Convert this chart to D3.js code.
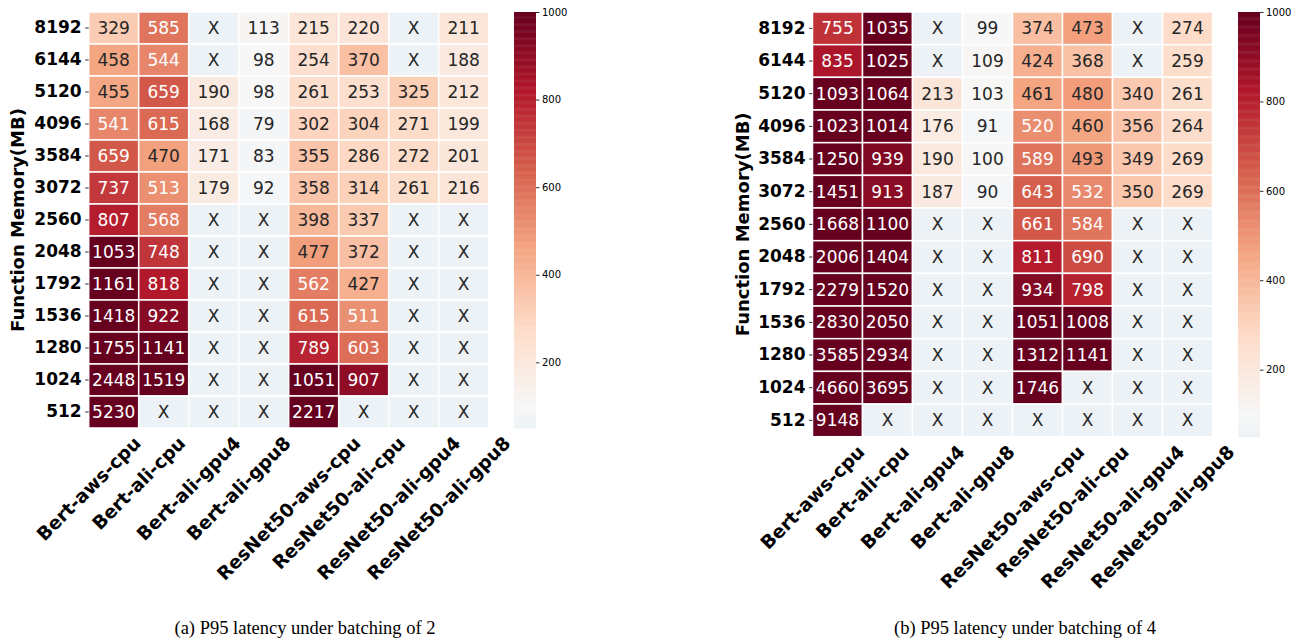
<!DOCTYPE html>
<html>
<head>
<meta charset="utf-8">
<script src="https://cdn.jsdelivr.net/npm/d3@7"></script>
<style>
  body { margin: 0; background: #fff; }
  svg { display: block; }
</style>
</head>
<body>
<svg id="chart" width="1307" height="640"></svg>
<script>
// categories
const memRows = ["8192", "6144", "5120", "4096", "3584", "3072", "2560", "2048", "1792", "1536", "1280", "1024", "512"]
const platforms = ["Bert-aws-cpu", "Bert-ali-cpu", "Bert-ali-gpu4", "Bert-ali-gpu8",
  "ResNet50-aws-cpu", "ResNet50-ali-cpu", "ResNet50-ali-gpu4", "ResNet50-ali-gpu8"]
const cbarTicks = [200, 400, 600, 800, 1000]

// P95 latency, batching of 2 (null = X)
const batch2 = [
  [329, 585, null, 113, 215, 220, null, 211],
  [458, 544, null, 98, 254, 370, null, 188],
  [455, 659, 190, 98, 261, 253, 325, 212],
  [541, 615, 168, 79, 302, 304, 271, 199],
  [659, 470, 171, 83, 355, 286, 272, 201],
  [737, 513, 179, 92, 358, 314, 261, 216],
  [807, 568, null, null, 398, 337, null, null],
  [1053, 748, null, null, 477, 372, null, null],
  [1161, 818, null, null, 562, 427, null, null],
  [1418, 922, null, null, 615, 511, null, null],
  [1755, 1141, null, null, 789, 603, null, null],
  [2448, 1519, null, null, 1051, 907, null, null],
  [5230, null, null, null, 2217, null, null, null]
]

// P95 latency, batching of 4
const batch4 = [
  [755, 1035, null, 99, 374, 473, null, 274],
  [835, 1025, null, 109, 424, 368, null, 259],
  [1093, 1064, 213, 103, 461, 480, 340, 261],
  [1023, 1014, 176, 91, 520, 460, 356, 264],
  [1250, 939, 190, 100, 589, 493, 349, 269],
  [1451, 913, 187, 90, 643, 532, 350, 269],
  [1668, 1100, null, null, 661, 584, null, null],
  [2006, 1404, null, null, 811, 690, null, null],
  [2279, 1520, null, null, 934, 798, null, null],
  [2830, 2050, null, null, 1051, 1008, null, null],
  [3585, 2934, null, null, 1312, 1141, null, null],
  [4660, 3695, null, null, 1746, null, null, null],
  [9148, null, null, null, null, null, null, null]
]

const VMIN = 50, VMAX = 1000, CENTER = 100
const rdbu = ["#053061", "#2166ac", "#4393c3", "#92c5de", "#d1e5f0", "#f7f7f7",
  "#fddbc7", "#f4a582", "#d6604d", "#b2182b", "#67001f"]
const cmap = d3.scaleLinear().domain(d3.range(11).map(i => i / 10)).range(rdbu).interpolate(d3.interpolateRgb)
const span = Math.max(VMAX - CENTER, CENTER - VMIN)
function color(v) {
  v = Math.max(VMIN, Math.min(VMAX, v == null ? VMIN : v))
  return cmap((v - (CENTER - span)) / (2 * span))
}
function lum(c) {
  const rgb = d3.rgb(c)
  const f = x => { x /= 255; return x <= 0.03928 ? x / 12.92 : Math.pow((x + 0.055) / 1.055, 2.4) }
  return 0.2126 * f(rgb.r) + 0.7152 * f(rgb.g) + 0.0722 * f(rgb.b)
}

const svg = d3.select("#chart")
const FONT = "DejaVu Sans"

function drawPanel(cfg) {
  const g = svg.append("g")
  const x = d3.scaleBand().domain(platforms).range([cfg.left, cfg.left + 400])
  const y = d3.scaleBand().domain(memRows).range([cfg.top, cfg.bottom])

  const cells = []
  cfg.data.forEach((row, i) => row.forEach((v, j) => cells.push({r: memRows[i], c: platforms[j], v})))

  g.selectAll("rect.cell").data(cells).join("rect")
    .attr("class", "cell")
    .attr("x", d => x(d.c)).attr("y", d => y(d.r))
    .attr("width", x.bandwidth()).attr("height", y.bandwidth())
    .attr("fill", d => color(d.v))
    .attr("stroke", "#fff").attr("stroke-width", 1.5)

  g.selectAll("text.annot").data(cells).join("text")
    .attr("class", "annot")
    .attr("x", d => x(d.c) + x.bandwidth() / 2)
    .attr("y", d => y(d.r) + y.bandwidth() / 2)
    .attr("text-anchor", "middle").attr("dominant-baseline", "central")
    .style("font-family", FONT).style("font-size", "17px")
    .attr("fill", d => d.v != null && lum(color(d.v)) <= 0.408 ? "#fff" : "#262626")
    .text(d => d.v == null ? "X" : d.v)

  // y axis
  const yAxis = g.append("g").attr("transform", `translate(${cfg.left},0)`)
    .call(d3.axisLeft(y).tickSize(3.5).tickPadding(3.5))
  yAxis.select(".domain").remove()
  yAxis.selectAll("text").style("font-family", FONT).style("font-size", "17px")
    .style("font-weight", "bold").attr("fill", "#000")
  yAxis.selectAll("line").attr("stroke", "#333")

  // x labels, rotated, bbox centred on cell left edge
  g.selectAll("text.xlab").data(platforms).join("text")
    .attr("class", "xlab")
    .style("font-family", FONT).style("font-size", "18.5px").style("font-weight", "bold")
    .attr("text-anchor", "middle").attr("dominant-baseline", "central")
    .text(d => d)
    .each(function(d) {
      const L = this.getComputedTextLength()
      const h = (L + 22) * Math.SQRT1_2
      const cx = x(d), cy = cfg.bottom + 4 + h / 2
      d3.select(this).attr("x", cx).attr("y", cy)
        .attr("transform", `rotate(-45,${cx},${cy})`)
    })

  // y label
  const ly = (cfg.top + cfg.bottom) / 2
  g.append("text")
    .attr("transform", `translate(${cfg.ylabelX},${ly}) rotate(-90)`)
    .attr("text-anchor", "middle").attr("dominant-baseline", "central")
    .style("font-family", FONT).style("font-size", "18px").style("font-weight", "bold")
    .text("Function Memory(MB)")

  // colorbar
  const cb = d3.scaleLinear().domain([VMIN, VMAX]).range([cfg.bottom, cfg.top])
  const steps = d3.range(VMIN, VMAX, 2)
  g.selectAll("rect.cb").data(steps).join("rect")
    .attr("class", "cb")
    .attr("x", cfg.cbX).attr("width", 22)
    .attr("y", d => cb(d + 2)).attr("height", d => cb(d) - cb(d + 2) + 0.5)
    .attr("fill", d => color(d + 1))
  const cAxis = g.append("g").attr("transform", `translate(${cfg.cbX + 22},0)`)
    .call(d3.axisRight(cb).tickValues(cbarTicks).tickFormat(d3.format("d")).tickSize(3.5).tickPadding(2.5))
  cAxis.select(".domain").remove()
  cAxis.selectAll("text").style("font-family", FONT).style("font-size", "10px").attr("fill", "#000")
  cAxis.selectAll("line").attr("stroke", "#333")

  // caption
  g.append("text")
    .attr("x", cfg.captionX).attr("y", 634)
    .attr("text-anchor", "middle")
    .style("font-family", "Liberation Serif").style("font-size", "18.5px")
    .attr("fill", "#000")
    .text(cfg.caption)
}

drawPanel({data: batch2, left: 88.7, top: 12, bottom: 428, cbX: 514, ylabelX: 17,
  captionX: 305, caption: "(a)  P95 latency under batching of 2"})
drawPanel({data: batch4, left: 812.5, top: 12, bottom: 436.7, cbX: 1238, ylabelX: 742,
  captionX: 1025, caption: "(b)  P95 latency under batching of 4"})
</script>
</body>
</html>
